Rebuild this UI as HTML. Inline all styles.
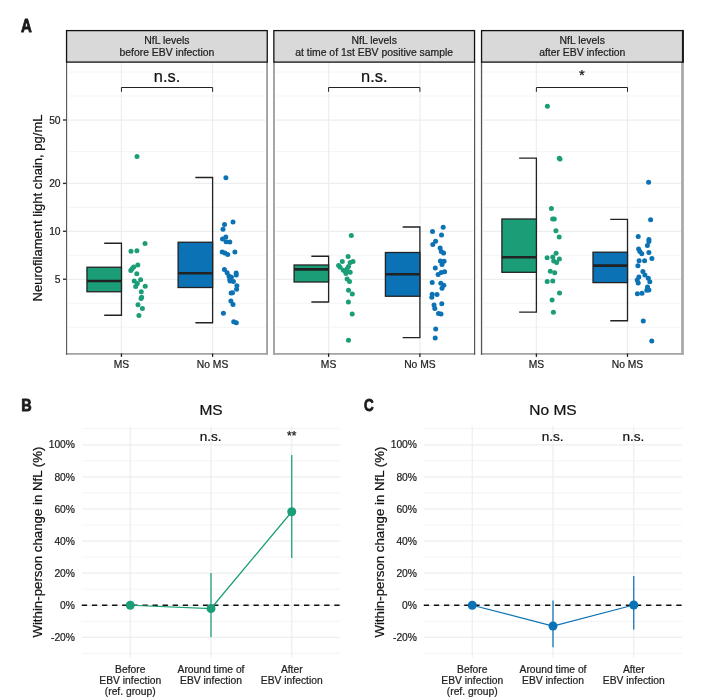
<!DOCTYPE html>
<html lang="en"><head><meta charset="utf-8"><title>NfL levels and EBV infection</title>
<style>html,body{margin:0;padding:0;background:#fff}body{width:708px;height:700px;overflow:hidden}svg{display:block}</style>
</head><body>
<svg width="708" height="700" viewBox="0 0 708 700" font-family="Liberation Sans, Arial, Helvetica, sans-serif">
<style>text{stroke-width:0.22px;stroke-linejoin:round}.k{fill:#1e1e1e;stroke:#1e1e1e}.d{fill:#111;stroke:#111}</style>
<rect width="708" height="700" fill="#fff"/>
<g>
<line x1="68.15" x2="265.65" y1="72.06" y2="72.06" stroke="#eceef0" stroke-width="0.65"/>
<line x1="68.15" x2="265.65" y1="96.03" y2="96.03" stroke="#eceef0" stroke-width="0.65"/>
<line x1="68.15" x2="265.65" y1="151.70" y2="151.70" stroke="#eceef0" stroke-width="0.65"/>
<line x1="68.15" x2="265.65" y1="207.40" y2="207.40" stroke="#eceef0" stroke-width="0.65"/>
<line x1="68.15" x2="265.65" y1="255.30" y2="255.30" stroke="#eceef0" stroke-width="0.65"/>
<line x1="68.15" x2="265.65" y1="303.20" y2="303.20" stroke="#eceef0" stroke-width="0.65"/>
<line x1="68.15" x2="265.65" y1="327.20" y2="327.20" stroke="#eceef0" stroke-width="0.65"/>
<line x1="68.15" x2="265.65" y1="279.25" y2="279.25" stroke="#eceef0" stroke-width="1.25"/>
<line x1="68.15" x2="265.65" y1="231.31" y2="231.31" stroke="#eceef0" stroke-width="1.25"/>
<line x1="68.15" x2="265.65" y1="183.37" y2="183.37" stroke="#eceef0" stroke-width="1.25"/>
<line x1="68.15" x2="265.65" y1="120.00" y2="120.00" stroke="#eceef0" stroke-width="1.25"/>
<line x1="121.45" x2="121.45" y1="62.0" y2="353.5" stroke="#eceef0" stroke-width="1.25"/>
<line x1="212.60" x2="212.60" y1="62.0" y2="353.5" stroke="#eceef0" stroke-width="1.25"/>
<path d="M104.20 243.25H121.45V315.25H104.20" fill="none" stroke="#222" stroke-width="1.3"/>
<rect x="86.95" y="267.25" width="34.50" height="24.50" fill="#1b9e77" stroke="#222" stroke-width="1.3"/>
<line x1="86.95" x2="121.45" y1="281.00" y2="281.00" stroke="#222" stroke-width="2.6"/>
<g fill="#1b9e77"><circle cx="137" cy="156.5" r="2.5"/><circle cx="145.0" cy="243.6" r="2.5"/><circle cx="131.0" cy="251.2" r="2.5"/><circle cx="136.9" cy="250.7" r="2.5"/><circle cx="137.8" cy="264.9" r="2.5"/><circle cx="133.7" cy="266.9" r="2.5"/><circle cx="132.1" cy="268.7" r="2.5"/><circle cx="130.8" cy="270.6" r="2.5"/><circle cx="136.8" cy="273.8" r="2.5"/><circle cx="140.6" cy="279.7" r="2.5"/><circle cx="134.2" cy="281.0" r="2.5"/><circle cx="137.3" cy="283.6" r="2.5"/><circle cx="135.7" cy="286.4" r="2.5"/><circle cx="145.2" cy="286.3" r="2.5"/><circle cx="141.3" cy="291.7" r="2.5"/><circle cx="141.6" cy="297.2" r="2.5"/><circle cx="141.1" cy="298.6" r="2.5"/><circle cx="138.0" cy="304.8" r="2.5"/><circle cx="142.4" cy="308.4" r="2.5"/><circle cx="138.9" cy="315.5" r="2.5"/></g>
<path d="M195.35 177.50H212.60V322.75H195.35" fill="none" stroke="#222" stroke-width="1.3"/>
<rect x="178.10" y="242.25" width="34.50" height="45.25" fill="#0b72b5" stroke="#222" stroke-width="1.3"/>
<line x1="178.10" x2="212.60" y1="273.25" y2="273.25" stroke="#222" stroke-width="2.6"/>
<g fill="#0b72b5"><circle cx="225.9" cy="177.7" r="2.5"/><circle cx="233.0" cy="221.9" r="2.5"/><circle cx="224.5" cy="224.6" r="2.5"/><circle cx="223.0" cy="229.3" r="2.5"/><circle cx="225.8" cy="237.1" r="2.5"/><circle cx="222.5" cy="239.1" r="2.5"/><circle cx="226.1" cy="241.7" r="2.5"/><circle cx="229.8" cy="242.0" r="2.5"/><circle cx="222.2" cy="252.1" r="2.5"/><circle cx="225.0" cy="253.0" r="2.5"/><circle cx="227.7" cy="254.4" r="2.5"/><circle cx="234.9" cy="252.1" r="2.5"/><circle cx="224.4" cy="269.6" r="2.5"/><circle cx="227.1" cy="272.8" r="2.5"/><circle cx="236.2" cy="273.0" r="2.5"/><circle cx="236.2" cy="274.9" r="2.5"/><circle cx="228.9" cy="275.9" r="2.5"/><circle cx="231.4" cy="277.2" r="2.5"/><circle cx="229.8" cy="279.3" r="2.5"/><circle cx="230" cy="281" r="2.5"/><circle cx="233.4" cy="281.6" r="2.5"/><circle cx="236.9" cy="285.8" r="2.5"/><circle cx="236.6" cy="289.3" r="2.5"/><circle cx="231.1" cy="293" r="2.5"/><circle cx="232.5" cy="292.8" r="2.5"/><circle cx="230.9" cy="301" r="2.5"/><circle cx="233.0" cy="304.4" r="2.5"/><circle cx="223.4" cy="313.3" r="2.5"/><circle cx="233.7" cy="321.8" r="2.5"/><circle cx="236.3" cy="322.7" r="2.5"/></g>
<path d="M121.45 91.8V87.5H212.60V91.8" fill="none" stroke="#222" stroke-width="1"/>
<text x="167.03" y="81.5" font-size="16.4" text-anchor="middle" class="d">n.s.</text>
<line x1="65.90" x2="267.90" y1="353.85" y2="353.85" stroke="#a2a2a2" stroke-width="1.9"/>
<line x1="66.6" x2="66.6" y1="62.0" y2="354.8" stroke="#555" stroke-width="1.1"/>
<line x1="267.05" x2="267.05" y1="62.0" y2="354.8" stroke="#a2a2a2" stroke-width="1.9"/>
<rect x="66.55" y="30.6" width="200.70" height="31.5" fill="#d9d9d9" stroke="#111" stroke-width="1.3"/>
<text x="166.90" y="44.2" font-size="10.42" text-anchor="middle" class="k">NfL levels</text>
<text x="166.90" y="55.65" font-size="10.42" text-anchor="middle" class="k">before EBV infection</text>
<line x1="121.45" x2="121.45" y1="353.5" y2="356.9" stroke="#222" stroke-width="1.3"/>
<text x="121.45" y="368.3" font-size="10.3" text-anchor="middle" class="k">MS</text>
<line x1="212.60" x2="212.60" y1="353.5" y2="356.9" stroke="#222" stroke-width="1.3"/>
<text x="212.60" y="368.3" font-size="10.3" text-anchor="middle" class="k">No MS</text>
</g>
<g>
<line x1="275.45" x2="472.95" y1="72.06" y2="72.06" stroke="#eceef0" stroke-width="0.65"/>
<line x1="275.45" x2="472.95" y1="96.03" y2="96.03" stroke="#eceef0" stroke-width="0.65"/>
<line x1="275.45" x2="472.95" y1="151.70" y2="151.70" stroke="#eceef0" stroke-width="0.65"/>
<line x1="275.45" x2="472.95" y1="207.40" y2="207.40" stroke="#eceef0" stroke-width="0.65"/>
<line x1="275.45" x2="472.95" y1="255.30" y2="255.30" stroke="#eceef0" stroke-width="0.65"/>
<line x1="275.45" x2="472.95" y1="303.20" y2="303.20" stroke="#eceef0" stroke-width="0.65"/>
<line x1="275.45" x2="472.95" y1="327.20" y2="327.20" stroke="#eceef0" stroke-width="0.65"/>
<line x1="275.45" x2="472.95" y1="279.25" y2="279.25" stroke="#eceef0" stroke-width="1.25"/>
<line x1="275.45" x2="472.95" y1="231.31" y2="231.31" stroke="#eceef0" stroke-width="1.25"/>
<line x1="275.45" x2="472.95" y1="183.37" y2="183.37" stroke="#eceef0" stroke-width="1.25"/>
<line x1="275.45" x2="472.95" y1="120.00" y2="120.00" stroke="#eceef0" stroke-width="1.25"/>
<line x1="328.60" x2="328.60" y1="62.0" y2="353.5" stroke="#eceef0" stroke-width="1.25"/>
<line x1="419.90" x2="419.90" y1="62.0" y2="353.5" stroke="#eceef0" stroke-width="1.25"/>
<path d="M311.35 256.25H328.60V302.00H311.35" fill="none" stroke="#222" stroke-width="1.3"/>
<rect x="294.10" y="265.00" width="34.50" height="17.00" fill="#1b9e77" stroke="#222" stroke-width="1.3"/>
<line x1="294.10" x2="328.60" y1="269.40" y2="269.40" stroke="#222" stroke-width="2.6"/>
<g fill="#1b9e77"><circle cx="351.3" cy="235.5" r="2.5"/><circle cx="348.1" cy="256.4" r="2.5"/><circle cx="342.3" cy="261.6" r="2.5"/><circle cx="353.0" cy="261.4" r="2.5"/><circle cx="350.2" cy="262.5" r="2.5"/><circle cx="338.6" cy="265.5" r="2.5"/><circle cx="340.1" cy="267.2" r="2.5"/><circle cx="348.5" cy="266.4" r="2.5"/><circle cx="347.1" cy="268.7" r="2.5"/><circle cx="343.3" cy="270.2" r="2.5"/><circle cx="345.5" cy="271.5" r="2.5"/><circle cx="350.2" cy="272.2" r="2.5"/><circle cx="345.9" cy="273.6" r="2.5"/><circle cx="347.1" cy="279" r="2.5"/><circle cx="349.5" cy="281.6" r="2.5"/><circle cx="348.5" cy="290.2" r="2.5"/><circle cx="352.3" cy="293.9" r="2.5"/><circle cx="348.4" cy="301.9" r="2.5"/><circle cx="352.2" cy="314.1" r="2.5"/><circle cx="348.5" cy="340.25" r="2.5"/></g>
<path d="M402.65 227.00H419.90V337.60H402.65" fill="none" stroke="#222" stroke-width="1.3"/>
<rect x="385.40" y="252.50" width="34.50" height="43.75" fill="#0b72b5" stroke="#222" stroke-width="1.3"/>
<line x1="385.40" x2="419.90" y1="274.25" y2="274.25" stroke="#222" stroke-width="2.6"/>
<g fill="#0b72b5"><circle cx="443.2" cy="227.2" r="2.5"/><circle cx="432.5" cy="231.4" r="2.5"/><circle cx="441.5" cy="235.1" r="2.5"/><circle cx="435.6" cy="241.2" r="2.5"/><circle cx="432.8" cy="244.4" r="2.5"/><circle cx="440.1" cy="247.9" r="2.5"/><circle cx="441.3" cy="251.4" r="2.5"/><circle cx="443.6" cy="253.0" r="2.5"/><circle cx="440.4" cy="261.1" r="2.5"/><circle cx="444.1" cy="261.3" r="2.5"/><circle cx="442.0" cy="264.6" r="2.5"/><circle cx="435.3" cy="268.1" r="2.5"/><circle cx="444.6" cy="271.7" r="2.5"/><circle cx="441.3" cy="272.6" r="2.5"/><circle cx="438.1" cy="274.5" r="2.5"/><circle cx="432.2" cy="282.6" r="2.5"/><circle cx="440.8" cy="283.2" r="2.5"/><circle cx="443.8" cy="285.2" r="2.5"/><circle cx="442" cy="288.2" r="2.5"/><circle cx="432.2" cy="294.2" r="2.5"/><circle cx="437" cy="294.5" r="2.5"/><circle cx="431.8" cy="297.2" r="2.5"/><circle cx="441.8" cy="303.7" r="2.5"/><circle cx="434" cy="305" r="2.5"/><circle cx="434.8" cy="308.5" r="2.5"/><circle cx="438.5" cy="313.5" r="2.5"/><circle cx="441" cy="314" r="2.5"/><circle cx="435.7" cy="329.1" r="2.5"/><circle cx="435.2" cy="338" r="2.5"/></g>
<path d="M328.60 91.8V87.5H419.90V91.8" fill="none" stroke="#222" stroke-width="1"/>
<text x="374.25" y="81.5" font-size="16.4" text-anchor="middle" class="d">n.s.</text>
<line x1="273.20" x2="475.20" y1="353.85" y2="353.85" stroke="#a2a2a2" stroke-width="1.9"/>
<line x1="274.0" x2="274.0" y1="62.0" y2="354.8" stroke="#a2a2a2" stroke-width="1.9"/>
<line x1="474.6" x2="474.6" y1="62.0" y2="354.8" stroke="#555" stroke-width="1.2"/>
<rect x="273.85" y="30.6" width="200.70" height="31.5" fill="#d9d9d9" stroke="#111" stroke-width="1.3"/>
<text x="374.20" y="44.2" font-size="10.42" text-anchor="middle" class="k">NfL levels</text>
<text x="374.20" y="55.65" font-size="10.42" text-anchor="middle" class="k">at time of 1st EBV positive sample</text>
<line x1="328.60" x2="328.60" y1="353.5" y2="356.9" stroke="#222" stroke-width="1.3"/>
<text x="328.60" y="368.3" font-size="10.3" text-anchor="middle" class="k">MS</text>
<line x1="419.90" x2="419.90" y1="353.5" y2="356.9" stroke="#222" stroke-width="1.3"/>
<text x="419.90" y="368.3" font-size="10.3" text-anchor="middle" class="k">No MS</text>
</g>
<g>
<line x1="483.15" x2="681.30" y1="72.06" y2="72.06" stroke="#eceef0" stroke-width="0.65"/>
<line x1="483.15" x2="681.30" y1="96.03" y2="96.03" stroke="#eceef0" stroke-width="0.65"/>
<line x1="483.15" x2="681.30" y1="151.70" y2="151.70" stroke="#eceef0" stroke-width="0.65"/>
<line x1="483.15" x2="681.30" y1="207.40" y2="207.40" stroke="#eceef0" stroke-width="0.65"/>
<line x1="483.15" x2="681.30" y1="255.30" y2="255.30" stroke="#eceef0" stroke-width="0.65"/>
<line x1="483.15" x2="681.30" y1="303.20" y2="303.20" stroke="#eceef0" stroke-width="0.65"/>
<line x1="483.15" x2="681.30" y1="327.20" y2="327.20" stroke="#eceef0" stroke-width="0.65"/>
<line x1="483.15" x2="681.30" y1="279.25" y2="279.25" stroke="#eceef0" stroke-width="1.25"/>
<line x1="483.15" x2="681.30" y1="231.31" y2="231.31" stroke="#eceef0" stroke-width="1.25"/>
<line x1="483.15" x2="681.30" y1="183.37" y2="183.37" stroke="#eceef0" stroke-width="1.25"/>
<line x1="483.15" x2="681.30" y1="120.00" y2="120.00" stroke="#eceef0" stroke-width="1.25"/>
<line x1="536.40" x2="536.40" y1="62.0" y2="353.5" stroke="#eceef0" stroke-width="1.25"/>
<line x1="627.50" x2="627.50" y1="62.0" y2="353.5" stroke="#eceef0" stroke-width="1.25"/>
<path d="M519.15 158.20H536.40V312.20H519.15" fill="none" stroke="#222" stroke-width="1.3"/>
<rect x="501.90" y="219.00" width="34.50" height="53.30" fill="#1b9e77" stroke="#222" stroke-width="1.3"/>
<line x1="501.90" x2="536.40" y1="257.25" y2="257.25" stroke="#222" stroke-width="2.6"/>
<g fill="#1b9e77"><circle cx="547.4" cy="106.2" r="2.5"/><circle cx="559.3" cy="158.3" r="2.5"/><circle cx="560.0" cy="158.9" r="2.5"/><circle cx="551.4" cy="208.4" r="2.5"/><circle cx="552.6" cy="219" r="2.5"/><circle cx="554.3" cy="219" r="2.5"/><circle cx="555.9" cy="230.8" r="2.5"/><circle cx="559.2" cy="237.1" r="2.5"/><circle cx="556.1" cy="253.3" r="2.5"/><circle cx="547.1" cy="257.7" r="2.5"/><circle cx="552.8" cy="257.0" r="2.5"/><circle cx="559.4" cy="259" r="2.5"/><circle cx="553.7" cy="260.9" r="2.5"/><circle cx="556.6" cy="262.4" r="2.5"/><circle cx="550.3" cy="271.2" r="2.5"/><circle cx="554.7" cy="272.8" r="2.5"/><circle cx="547.2" cy="281.4" r="2.5"/><circle cx="552.8" cy="281.1" r="2.5"/><circle cx="559.5" cy="293" r="2.5"/><circle cx="552.1" cy="300.1" r="2.5"/><circle cx="553.4" cy="312.2" r="2.5"/></g>
<path d="M610.25 219.40H627.50V320.75H610.25" fill="none" stroke="#222" stroke-width="1.3"/>
<rect x="593.00" y="252.20" width="34.50" height="30.40" fill="#0b72b5" stroke="#222" stroke-width="1.3"/>
<line x1="593.00" x2="627.50" y1="265.60" y2="265.60" stroke="#222" stroke-width="2.6"/>
<g fill="#0b72b5"><circle cx="648.6" cy="182.3" r="2.5"/><circle cx="650.6" cy="219.7" r="2.5"/><circle cx="638.2" cy="236.4" r="2.5"/><circle cx="648.9" cy="239.5" r="2.5"/><circle cx="648.9" cy="241.5" r="2.5"/><circle cx="647.4" cy="245.6" r="2.5"/><circle cx="638.6" cy="249.1" r="2.5"/><circle cx="639.9" cy="251.4" r="2.5"/><circle cx="641.8" cy="253.7" r="2.5"/><circle cx="648.9" cy="252.6" r="2.5"/><circle cx="651.9" cy="258.5" r="2.5"/><circle cx="639.1" cy="260.7" r="2.5"/><circle cx="644.6" cy="260.7" r="2.5"/><circle cx="637.9" cy="265.8" r="2.5"/><circle cx="642.9" cy="271.4" r="2.5"/><circle cx="644.9" cy="274.9" r="2.5"/><circle cx="648.3" cy="278.3" r="2.5"/><circle cx="649.8" cy="281.7" r="2.5"/><circle cx="638.9" cy="277.1" r="2.5"/><circle cx="637.2" cy="280" r="2.5"/><circle cx="638.2" cy="283.1" r="2.5"/><circle cx="647.5" cy="286.9" r="2.5"/><circle cx="648.9" cy="289.9" r="2.5"/><circle cx="646.8" cy="290.3" r="2.5"/><circle cx="637.4" cy="293.7" r="2.5"/><circle cx="642" cy="293.3" r="2.5"/><circle cx="643.25" cy="321" r="2.5"/><circle cx="651.75" cy="341.1" r="2.5"/></g>
<path d="M536.40 91.8V87.5H627.50V91.8" fill="none" stroke="#222" stroke-width="1"/>
<text x="581.95" y="80.0" font-size="14.8" text-anchor="middle" class="d">*</text>
<line x1="480.90" x2="683.55" y1="353.85" y2="353.85" stroke="#a2a2a2" stroke-width="1.9"/>
<line x1="481.55" x2="481.55" y1="62.0" y2="354.8" stroke="#555" stroke-width="1.3"/>
<line x1="682.5" x2="682.5" y1="62.0" y2="354.8" stroke="#aaa" stroke-width="2.8"/>
<rect x="481.55" y="30.6" width="201.35" height="31.5" fill="#d9d9d9" stroke="#111" stroke-width="1.3"/>
<text x="582.23" y="44.2" font-size="10.42" text-anchor="middle" class="k">NfL levels</text>
<text x="582.23" y="55.65" font-size="10.42" text-anchor="middle" class="k">after EBV infection</text>
<line x1="536.40" x2="536.40" y1="353.5" y2="356.9" stroke="#222" stroke-width="1.3"/>
<text x="536.40" y="368.3" font-size="10.3" text-anchor="middle" class="k">MS</text>
<line x1="627.50" x2="627.50" y1="353.5" y2="356.9" stroke="#222" stroke-width="1.3"/>
<text x="627.50" y="368.3" font-size="10.3" text-anchor="middle" class="k">No MS</text>
</g>
<line x1="682.9" x2="682.9" y1="29.95" y2="62.75" stroke="#1a1a1a" stroke-width="2"/>
<line x1="63.0" x2="66.3" y1="279.25" y2="279.25" stroke="#333" stroke-width="1.4"/>
<text x="60.6" y="282.95" font-size="10.3" text-anchor="end" class="k">5</text>
<line x1="63.0" x2="66.3" y1="231.31" y2="231.31" stroke="#333" stroke-width="1.4"/>
<text x="60.6" y="235.01" font-size="10.3" text-anchor="end" class="k">10</text>
<line x1="63.0" x2="66.3" y1="183.37" y2="183.37" stroke="#333" stroke-width="1.4"/>
<text x="60.6" y="187.07" font-size="10.3" text-anchor="end" class="k">20</text>
<line x1="63.0" x2="66.3" y1="120.00" y2="120.00" stroke="#333" stroke-width="1.4"/>
<text x="60.6" y="123.70" font-size="10.3" text-anchor="end" class="k">50</text>
<text transform="translate(41.8 208) rotate(-90)" font-size="13.05" text-anchor="middle" class="d">Neurofilament light chain, pg/mL</text>
<text transform="translate(20.9 31.6) scale(0.79 1)" font-size="19" font-weight="bold" style="fill:#1a1a1a;stroke:#1a1a1a;stroke-width:0.8px">A</text>
<text transform="translate(21.3 410.8) scale(0.87 1)" font-size="16.6" font-weight="bold" style="fill:#1a1a1a;stroke:#1a1a1a;stroke-width:0.8px">B</text>
<text transform="translate(363.9 411.2) scale(0.78 1)" font-size="17.3" font-weight="bold" style="fill:#1a1a1a;stroke:#1a1a1a;stroke-width:0.8px">C</text>
<line x1="81.80" x2="340.20" y1="653.40" y2="653.40" stroke="#eceef0" stroke-width="0.65"/>
<line x1="81.80" x2="340.20" y1="621.30" y2="621.30" stroke="#eceef0" stroke-width="0.65"/>
<line x1="81.80" x2="340.20" y1="589.20" y2="589.20" stroke="#eceef0" stroke-width="0.65"/>
<line x1="81.80" x2="340.20" y1="557.10" y2="557.10" stroke="#eceef0" stroke-width="0.65"/>
<line x1="81.80" x2="340.20" y1="525.00" y2="525.00" stroke="#eceef0" stroke-width="0.65"/>
<line x1="81.80" x2="340.20" y1="492.90" y2="492.90" stroke="#eceef0" stroke-width="0.65"/>
<line x1="81.80" x2="340.20" y1="460.80" y2="460.80" stroke="#eceef0" stroke-width="0.65"/>
<line x1="81.80" x2="340.20" y1="428.70" y2="428.70" stroke="#eceef0" stroke-width="0.65"/>
<line x1="81.80" x2="340.20" y1="637.35" y2="637.35" stroke="#eceef0" stroke-width="1.25"/>
<text x="75.00" y="641.05" font-size="10.3" text-anchor="end" class="k">-20%</text>
<line x1="81.80" x2="340.20" y1="605.25" y2="605.25" stroke="#eceef0" stroke-width="1.25"/>
<text x="75.00" y="608.95" font-size="10.3" text-anchor="end" class="k">0%</text>
<line x1="81.80" x2="340.20" y1="573.15" y2="573.15" stroke="#eceef0" stroke-width="1.25"/>
<text x="75.00" y="576.85" font-size="10.3" text-anchor="end" class="k">20%</text>
<line x1="81.80" x2="340.20" y1="541.05" y2="541.05" stroke="#eceef0" stroke-width="1.25"/>
<text x="75.00" y="544.75" font-size="10.3" text-anchor="end" class="k">40%</text>
<line x1="81.80" x2="340.20" y1="508.95" y2="508.95" stroke="#eceef0" stroke-width="1.25"/>
<text x="75.00" y="512.65" font-size="10.3" text-anchor="end" class="k">60%</text>
<line x1="81.80" x2="340.20" y1="476.85" y2="476.85" stroke="#eceef0" stroke-width="1.25"/>
<text x="75.00" y="480.55" font-size="10.3" text-anchor="end" class="k">80%</text>
<line x1="81.80" x2="340.20" y1="444.75" y2="444.75" stroke="#eceef0" stroke-width="1.25"/>
<text x="75.00" y="448.45" font-size="10.3" text-anchor="end" class="k">100%</text>
<line x1="130.25" x2="130.25" y1="426.0" y2="657.5" stroke="#eceef0" stroke-width="1.25"/>
<line x1="211.00" x2="211.00" y1="426.0" y2="657.5" stroke="#eceef0" stroke-width="1.25"/>
<line x1="291.75" x2="291.75" y1="426.0" y2="657.5" stroke="#eceef0" stroke-width="1.25"/>
<line x1="81.80" x2="341.80" y1="605.25" y2="605.25" stroke="#111" stroke-width="1.5" stroke-dasharray="5.3 4.8"/>
<polyline fill="none" stroke="#1b9e77" stroke-width="1.25" points="130.25,605.25 211.00,608.50 291.75,511.75"/>
<circle cx="130.25" cy="605.25" r="4.5" fill="#1b9e77"/>
<line x1="211.00" x2="211.00" y1="573.00" y2="637.25" stroke="#1b9e77" stroke-width="1.25"/>
<circle cx="211.00" cy="608.50" r="4.5" fill="#1b9e77"/>
<line x1="291.75" x2="291.75" y1="455.00" y2="558.00" stroke="#1b9e77" stroke-width="1.25"/>
<circle cx="291.75" cy="511.75" r="4.5" fill="#1b9e77"/>
<text x="210.60" y="441.2" font-size="13.6" text-anchor="middle" class="d">n.s.</text>
<text x="291.75" y="439.6" font-size="12" text-anchor="middle" class="d">**</text>
<text x="211.00" y="414.8" font-size="15.5" text-anchor="middle" class="d">MS</text>
<text x="130.25" y="672.80" font-size="10.3" text-anchor="middle" class="k">Before</text>
<text x="130.25" y="684.10" font-size="10.3" text-anchor="middle" class="k">EBV infection</text>
<text x="130.25" y="695.40" font-size="10.3" text-anchor="middle" class="k">(ref. group)</text>
<text x="211.00" y="672.80" font-size="10.3" text-anchor="middle" class="k">Around time of</text>
<text x="211.00" y="684.10" font-size="10.3" text-anchor="middle" class="k">EBV infection</text>
<text x="291.75" y="672.80" font-size="10.3" text-anchor="middle" class="k">After</text>
<text x="291.75" y="684.10" font-size="10.3" text-anchor="middle" class="k">EBV infection</text>
<text transform="translate(41.70 542.1) rotate(-90)" font-size="13.25" text-anchor="middle" class="d">Within-person change in NfL (%)</text>
<line x1="423.80" x2="682.20" y1="653.40" y2="653.40" stroke="#eceef0" stroke-width="0.65"/>
<line x1="423.80" x2="682.20" y1="621.30" y2="621.30" stroke="#eceef0" stroke-width="0.65"/>
<line x1="423.80" x2="682.20" y1="589.20" y2="589.20" stroke="#eceef0" stroke-width="0.65"/>
<line x1="423.80" x2="682.20" y1="557.10" y2="557.10" stroke="#eceef0" stroke-width="0.65"/>
<line x1="423.80" x2="682.20" y1="525.00" y2="525.00" stroke="#eceef0" stroke-width="0.65"/>
<line x1="423.80" x2="682.20" y1="492.90" y2="492.90" stroke="#eceef0" stroke-width="0.65"/>
<line x1="423.80" x2="682.20" y1="460.80" y2="460.80" stroke="#eceef0" stroke-width="0.65"/>
<line x1="423.80" x2="682.20" y1="428.70" y2="428.70" stroke="#eceef0" stroke-width="0.65"/>
<line x1="423.80" x2="682.20" y1="637.35" y2="637.35" stroke="#eceef0" stroke-width="1.25"/>
<text x="417.00" y="641.05" font-size="10.3" text-anchor="end" class="k">-20%</text>
<line x1="423.80" x2="682.20" y1="605.25" y2="605.25" stroke="#eceef0" stroke-width="1.25"/>
<text x="417.00" y="608.95" font-size="10.3" text-anchor="end" class="k">0%</text>
<line x1="423.80" x2="682.20" y1="573.15" y2="573.15" stroke="#eceef0" stroke-width="1.25"/>
<text x="417.00" y="576.85" font-size="10.3" text-anchor="end" class="k">20%</text>
<line x1="423.80" x2="682.20" y1="541.05" y2="541.05" stroke="#eceef0" stroke-width="1.25"/>
<text x="417.00" y="544.75" font-size="10.3" text-anchor="end" class="k">40%</text>
<line x1="423.80" x2="682.20" y1="508.95" y2="508.95" stroke="#eceef0" stroke-width="1.25"/>
<text x="417.00" y="512.65" font-size="10.3" text-anchor="end" class="k">60%</text>
<line x1="423.80" x2="682.20" y1="476.85" y2="476.85" stroke="#eceef0" stroke-width="1.25"/>
<text x="417.00" y="480.55" font-size="10.3" text-anchor="end" class="k">80%</text>
<line x1="423.80" x2="682.20" y1="444.75" y2="444.75" stroke="#eceef0" stroke-width="1.25"/>
<text x="417.00" y="448.45" font-size="10.3" text-anchor="end" class="k">100%</text>
<line x1="472.25" x2="472.25" y1="426.0" y2="657.5" stroke="#eceef0" stroke-width="1.25"/>
<line x1="553.00" x2="553.00" y1="426.0" y2="657.5" stroke="#eceef0" stroke-width="1.25"/>
<line x1="633.75" x2="633.75" y1="426.0" y2="657.5" stroke="#eceef0" stroke-width="1.25"/>
<line x1="423.80" x2="683.80" y1="605.25" y2="605.25" stroke="#111" stroke-width="1.5" stroke-dasharray="5.3 4.8"/>
<polyline fill="none" stroke="#0b72b5" stroke-width="1.25" points="472.25,605.25 553.00,626.00 633.75,605.00"/>
<circle cx="472.25" cy="605.25" r="4.5" fill="#0b72b5"/>
<line x1="553.00" x2="553.00" y1="600.50" y2="647.25" stroke="#0b72b5" stroke-width="1.25"/>
<circle cx="553.00" cy="626.00" r="4.5" fill="#0b72b5"/>
<line x1="633.75" x2="633.75" y1="576.00" y2="629.50" stroke="#0b72b5" stroke-width="1.25"/>
<circle cx="633.75" cy="605.00" r="4.5" fill="#0b72b5"/>
<text x="552.60" y="441.2" font-size="13.6" text-anchor="middle" class="d">n.s.</text>
<text x="633.35" y="441.2" font-size="13.6" text-anchor="middle" class="d">n.s.</text>
<text x="553.00" y="414.8" font-size="15.5" text-anchor="middle" class="d">No MS</text>
<text x="472.25" y="672.80" font-size="10.3" text-anchor="middle" class="k">Before</text>
<text x="472.25" y="684.10" font-size="10.3" text-anchor="middle" class="k">EBV infection</text>
<text x="472.25" y="695.40" font-size="10.3" text-anchor="middle" class="k">(ref. group)</text>
<text x="553.00" y="672.80" font-size="10.3" text-anchor="middle" class="k">Around time of</text>
<text x="553.00" y="684.10" font-size="10.3" text-anchor="middle" class="k">EBV infection</text>
<text x="633.75" y="672.80" font-size="10.3" text-anchor="middle" class="k">After</text>
<text x="633.75" y="684.10" font-size="10.3" text-anchor="middle" class="k">EBV infection</text>
<text transform="translate(383.70 542.1) rotate(-90)" font-size="13.25" text-anchor="middle" class="d">Within-person change in NfL (%)</text>
</svg>
</body></html>
